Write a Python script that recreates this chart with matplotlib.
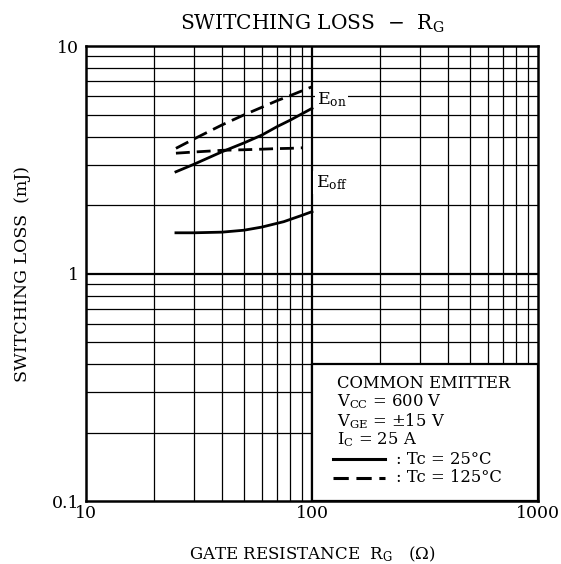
import numpy as np
import matplotlib
matplotlib.use("Agg")
import matplotlib.pyplot as plt
from matplotlib.patches import Rectangle

plt.rcParams['font.family'] = 'DejaVu Serif'
plt.rcParams['mathtext.fontset'] = 'dejavuserif'

# gate resistance (ohm) and switching loss (mJ)
eon25_r = [25, 30, 40, 50, 60, 70, 80, 100]
eon25 = [2.80, 3.02, 3.43, 3.75, 4.06, 4.42, 4.72, 5.32]
eon125_r = [25, 30, 40, 50, 60, 70, 80, 100]
eon125 = [3.55, 3.90, 4.50, 4.98, 5.38, 5.75, 6.05, 6.62]
eoff125_r = [25, 30, 40, 50, 60, 70, 80, 91]
eoff125 = [3.38, 3.42, 3.48, 3.50, 3.52, 3.54, 3.55, 3.57]
eoff25_r = [25, 30, 40, 50, 60, 75, 90, 100]
eoff25 = [1.51, 1.51, 1.52, 1.55, 1.60, 1.69, 1.80, 1.87]

xticks = [10, 100, 1000]
xtick_labels = ["10", "100", "1000"]
yticks = [0.1, 1, 10]
ytick_labels = ["0.1", "1", "10"]

fig = plt.figure(figsize=(5.61, 5.64), dpi=100)
ax = fig.add_axes([0.1533, 0.1117, 0.8057, 0.8067])
ax.set_xscale('log')
ax.set_yscale('log')
ax.set_xlim(10, 1000)
ax.set_ylim(0.1, 10)

# grid
for dec in [10, 100]:
    for k in range(2, 10):
        ax.axvline(dec * k, color='black', lw=0.9, zorder=1)
for dec in [0.1, 1]:
    for k in range(2, 10):
        ax.axhline(dec * k, color='black', lw=0.9, zorder=1)
ax.axvline(100, color='black', lw=1.6, zorder=1)
ax.axhline(1, color='black', lw=1.6, zorder=1)

for s in ax.spines.values():
    s.set_linewidth(1.8)

ax.set_xticks(xticks)
ax.set_xticklabels(xtick_labels)
ax.set_yticks(yticks)
ax.set_yticklabels(ytick_labels)
ax.minorticks_off()
ax.tick_params(length=0, labelsize=12.5)
ax.tick_params(axis='x', pad=3)
ax.tick_params(axis='y', pad=5)

dash = (0, (5, 2.5))
ax.plot(eon25_r, eon25, color='black', lw=2, zorder=3)
ax.plot(eon125_r, eon125, color='black', lw=2, ls=dash, zorder=3)
ax.plot(eoff125_r, eoff125, color='black', lw=2, ls=dash, zorder=3)
ax.plot(eoff25_r, eoff25, color='black', lw=2, zorder=3)

ax.text(122, 5.8, r"E$_\mathregular{on}$", fontsize=12.5, ha='center', va='center',
        bbox=dict(facecolor='white', edgecolor='none', pad=1.5), zorder=4)
ax.text(122, 2.52, r"E$_\mathregular{off}$", fontsize=12.5, ha='center', va='center',
        bbox=dict(facecolor='white', edgecolor='none', pad=1.5), zorder=4)

# condition box
ax.add_patch(Rectangle((100, 0.1), 900, 0.3, facecolor='white', edgecolor='black',
                       lw=1.6, zorder=2))
tx = 0.555
lines = ["COMMON EMITTER",
         r"V$_\mathregular{CC}$ = 600 V",
         r"V$_\mathregular{GE}$ = $\pm$15 V",
         r"I$_\mathregular{C}$ = 25 A"]
for i, s in enumerate(lines):
    ax.text(tx, 0.259 - i * 0.0415, s, transform=ax.transAxes, fontsize=11.8,
            va='center', ha='left', zorder=4)
ax.plot([0.546, 0.661], [0.092, 0.092], transform=ax.transAxes, color='black', lw=2.2, zorder=4)
ax.plot([0.546, 0.661], [0.051, 0.051], transform=ax.transAxes, color='black', lw=2.2, ls=dash, zorder=4)
ax.text(0.685, 0.092, ": Tc = 25°C", transform=ax.transAxes, fontsize=11.8, va='center', zorder=4)
ax.text(0.685, 0.051, ": Tc = 125°C", transform=ax.transAxes, fontsize=11.8, va='center', zorder=4)

ax.set_title(r"SWITCHING LOSS  $-$  R$_\mathregular{G}$", fontsize=14.5, pad=12)
ax.set_xlabel(r"GATE RESISTANCE  R$_\mathregular{G}$   ($\Omega$)", fontsize=12, labelpad=16)
ax.set_ylabel("SWITCHING LOSS  (mJ)", fontsize=12.5, labelpad=15)

fig.savefig("out.png", dpi=100)
